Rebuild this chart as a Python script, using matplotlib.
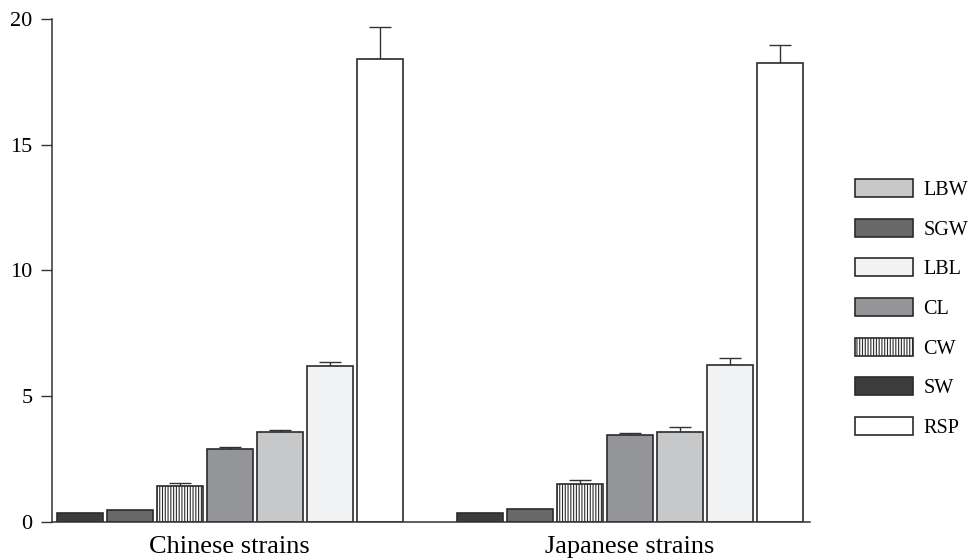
import matplotlib
matplotlib.use("Agg")
import matplotlib.pyplot as plt
import numpy as np

plt.rcParams['font.family'] = ['Liberation Serif', 'DejaVu Serif']

groups = ["Chinese strains", "Japanese strains"]
series = ["SW", "SGW", "CW", "CL", "LBW", "LBL", "RSP"]
values = {
    "Chinese strains":  [0.35, 0.48, 1.42, 2.92, 3.57, 6.18, 18.38],
    "Japanese strains": [0.35, 0.50, 1.50, 3.44, 3.59, 6.25, 18.22],
}
errors = {
    "Chinese strains":  [0.0, 0.0, 0.13, 0.08, 0.09, 0.19, 1.29],
    "Japanese strains": [0.0, 0.0, 0.15, 0.09, 0.18, 0.25, 0.73],
}
legend_order = ["LBW", "SGW", "LBL", "CL", "CW", "SW", "RSP"]
yticks = [0, 5, 10, 15, 20]

colors = {"SW": "#3c3c3c", "SGW": "#68686b", "CW": "#ffffff", "CL": "#949598",
          "LBW": "#c7c8ca", "LBL": "#f1f2f4", "RSP": "#ffffff"}
hatches = {"CW": "||||||"}
edge = "#2b2b2b"

fig = plt.figure(figsize=(9.71, 5.60), dpi=100)
ax = fig.add_axes([52/971, 38/560, (810-52)/971, (522-18.7)/560])

plt.rcParams['hatch.linewidth'] = 0.8
group_gap = 8
handles = {}
for gi, g in enumerate(groups):
    for si, s in enumerate(series):
        x = gi * group_gap + si
        v = values[g][si]
        e = errors[g][si]
        b = ax.bar(x, v, width=0.92, color=colors[s], edgecolor=edge,
                   linewidth=1.2, hatch=hatches.get(s, None), zorder=2)
        handles[s] = b
        if e > 0:
            ax.errorbar(x, v, yerr=[[0], [e]], fmt='none', ecolor="#333333",
                        elinewidth=1.0, capsize=8, capthick=1.0, zorder=1)

ax.set_xlim(-0.55, 14.61)
ax.set_ylim(0, 20)
ax.set_yticks(yticks)
ax.set_yticklabels([str(t) for t in yticks], fontsize=16)
ax.tick_params(axis='y', length=8, width=1.0, color="#333333", pad=6)
ax.set_xticks([gi * group_gap + 3 for gi in range(len(groups))])
ax.set_xticklabels(groups, fontsize=19)
ax.tick_params(axis='x', length=0, pad=10)
for sp in ["top", "right"]:
    ax.spines[sp].set_visible(False)
ax.spines["left"].set_color("#333333")
ax.spines["bottom"].set_color("#333333")
ax.spines["left"].set_linewidth(1.1)
ax.spines["bottom"].set_linewidth(1.1)
ax.spines["bottom"].set_bounds(-0.55, 14.61)

leg = ax.legend([handles[s] for s in legend_order], legend_order,
                loc="upper left", bbox_to_anchor=(847/971, (560-171)/560),
                bbox_transform=fig.transFigure, frameon=False, fontsize=14.5,
                handlelength=2.9, handleheight=1.0, handletextpad=0.5,
                labelspacing=0.93, borderaxespad=0)

fig.savefig("out.png", dpi=100)
